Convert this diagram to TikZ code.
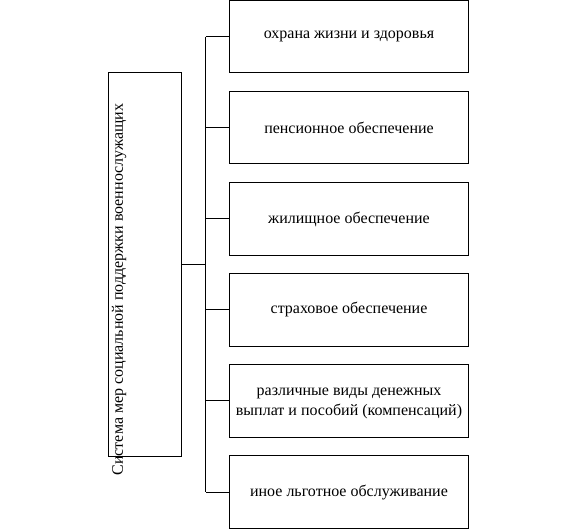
\documentclass[tikz,border=0pt]{standalone}
\usepackage{fontspec}
\setmainfont{Liberation Serif}
\begin{document}
\begin{tikzpicture}[x=0.75pt,y=-0.75pt,
  line width=0.75pt,
  rbox/.style={draw, minimum width=239.4*0.75pt, minimum height=72.6*0.75pt, inner sep=0pt, align=center, font=\fontsize{12pt}{15pt}\selectfont},
  btext/.style={inner sep=0pt, align=center, font=\fontsize{12pt}{15pt}\selectfont},
  lbox/.style={draw, minimum width=73*0.75pt, minimum height=383.7*0.75pt, inner sep=0pt},
  ltext/.style={rotate=90, inner sep=0pt, font=\fontsize{12pt}{15pt}\selectfont}]
\useasboundingbox (0,0) rectangle (577,530);
\node[lbox] (L) at (144.8,264.2) {};
\node[ltext] (Lt) at (119,289.5) {Система мер социальной поддержки военнослужащих};
\node[rbox] (b1) at (349,36.6) {охрана жизни и здоровья};
\node[rbox] (b2) at (349,127.6) {пенсионное обеспечение};
\node[rbox] (b3) at (349,219) {жилищное обеспечение};
\node[rbox] (b4) at (349,309.9) {страховое обеспечение};
\node[rbox] (b5) at (349,400.8) {};
\node[btext] (t5) at ([yshift=-2pt]b5.center) {различные виды денежных\\выплат и пособий (компенсаций)};
\node[rbox] (b6) at (349,492) {иное льготное обслуживание};
\coordinate (bus) at (205.7,0);
\draw (b1.west -| bus) -- (b6.west -| bus);
\foreach \i in {1,...,6} {\draw (b\i.west) -- (b\i.west -| bus);}
\draw (L.east) -- (L.east -| bus);
\end{tikzpicture}
\end{document}
